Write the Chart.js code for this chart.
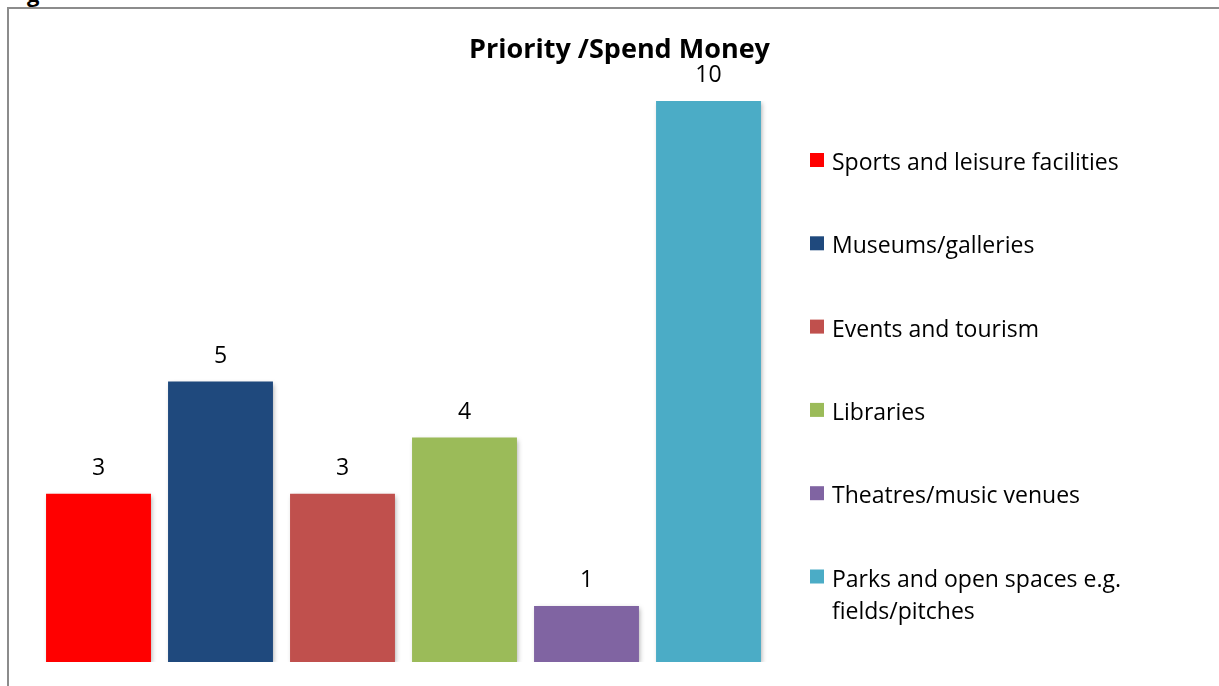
<!DOCTYPE html>
<html>
<head>
<meta charset="utf-8">
<title>Priority /Spend Money</title>
<script src="https://cdn.jsdelivr.net/npm/chart.js@4.4.1/dist/chart.umd.min.js"></script>
<style>
  html, body { margin: 0; padding: 0; background: #fff; overflow: hidden; }
  #wrap { position: relative; width: 1219px; height: 686px; }
  #frame {
    position: absolute; left: 7px; top: 7px; width: 1300px; height: 800px;
    border-top: 2px solid #8c8c8c; border-left: 2px solid #8c8c8c;
    box-sizing: border-box;
  }
  #stray {
    position: absolute; left: 27px; top: -18px;
    font: bold 22px "Open Sans", sans-serif; line-height: 22px; color: #000;
  }
  canvas { position: absolute; left: 0; top: 0; }
</style>
</head>
<body>
<div id="wrap">
  <span id="stray">g</span>
  <div id="frame"></div>
  <canvas id="chart" width="1219" height="686"></canvas>
</div>
<script>
// Spending priorities, one bar per area
const categories = [
  'Sports and leisure facilities',
  'Museums/galleries',
  'Events and tourism',
  'Libraries',
  'Theatres/music venues',
  ['Parks and open spaces e.g.', 'fields/pitches']
];
const votes = [3, 5, 3, 4, 1, 10];
const barColors = ['#FF0000', '#1F497D', '#C0504D', '#9BBB59', '#8064A2', '#4BACC6'];
const chartTitle = 'Priority /Spend Money';

const FONT = '"Open Sans", sans-serif';

// soft drop shadow under the bars
const barShadow = {
  id: 'barShadow',
  beforeDatasetsDraw(chart) {
    const ctx = chart.ctx;
    ctx.save();
    ctx.shadowColor = 'rgba(0,0,0,0.35)';
    ctx.shadowBlur = 5;
    ctx.shadowOffsetX = 1.5;
    ctx.shadowOffsetY = 2;
  },
  afterDatasetsDraw(chart) {
    chart.ctx.restore();
  }
};

// title, value labels and the side legend
const decorations = {
  id: 'decorations',
  afterDraw(chart) {
    const ctx = chart.ctx;
    ctx.save();
    ctx.fillStyle = '#000';

    ctx.font = 'bold 27px ' + FONT;
    ctx.textAlign = 'center';
    ctx.textBaseline = 'alphabetic';
    ctx.fillText(chartTitle, 619.5, 58);

    ctx.font = '23px ' + FONT;
    const meta = chart.getDatasetMeta(0);
    meta.data.forEach((bar, i) => {
      ctx.fillText(String(votes[i]), bar.x, bar.y - 19);
    });

    ctx.textAlign = 'left';
    ctx.font = '23px ' + FONT;
    categories.forEach((label, i) => {
      const base = 170 + i * 83.3;
      ctx.fillStyle = barColors[i];
      ctx.fillRect(810, base - 17, 14, 14);
      ctx.fillStyle = '#000';
      const lines = Array.isArray(label) ? label : [label];
      lines.forEach((line, j) => {
        ctx.fillText(line, 832, base + j * 32.5);
      });
    });
    ctx.restore();
  }
};

new Chart(document.getElementById('chart'), {
  type: 'bar',
  data: {
    labels: categories,
    datasets: [{
      data: votes,
      backgroundColor: barColors,
      borderWidth: 0,
      categoryPercentage: 1,
      barPercentage: 0.86
    }]
  },
  options: {
    responsive: false,
    animation: false,
    events: [],
    layout: { padding: { left: 37.5, right: 449.5, top: 101, bottom: 24 } },
    scales: {
      x: { display: false },
      y: { display: false, min: 0, max: 10 }
    },
    plugins: {
      legend: { display: false },
      title: { display: false },
      tooltip: { enabled: false }
    }
  },
  plugins: [barShadow, decorations]
});
</script>
</body>
</html>
